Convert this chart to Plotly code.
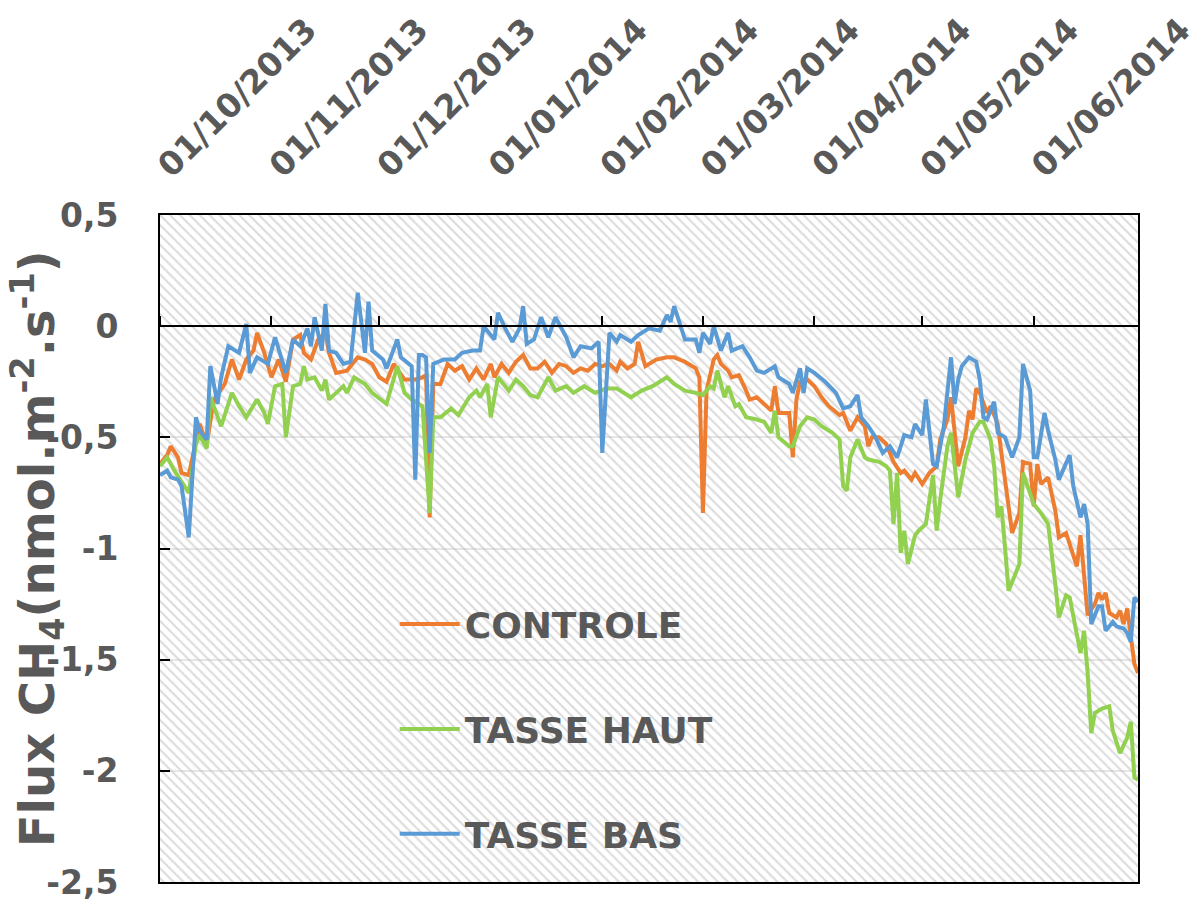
import pandas as pd
import plotly.graph_objects as go

START = "2013-10-01"
AXIS_END = "2014-06-30"
Y_RANGE = [-2.5, 0.5]
Y_TICKS = [0.5, 0, -0.5, -1, -1.5, -2, -2.5]
Y_TICKTEXT = ["0,5", "0", "-0,5", "-1", "-1,5", "-2", "-2,5"]

# days since 01/10/2013
controle_days = [0,2,3,5,6,8,11,13,15,16,18,20,22,24,26,27,29,31,33,35,37,39,40,42,44,46,47,49,52,55,57,59,61,63,65,68,71,73,74,75,76,78,80,82,84,86,88,90,92,93,95,97,99,101,103,105,107,109,111,113,115,117,119,121,123,125,127,128,130,132,133,135,138,141,143,146,149,150,151,152,154,155,156,158,159,161,163,164,166,168,170,171,172,174,175,176,177,178,180,182,184,186,189,190,192,194,196,197,198,200,202,204,206,207,209,210,212,214,216,217,219,220,221,222,224,225,226,227,228,230,231,233,234,236,237,239,240,242,243,244,245,247,249,250,252,255,256,258,260,261,262,263,264,266,267,268,269,271,272]
controle_flux = [-0.62,-0.58,-0.54,-0.59,-0.66,-0.67,-0.44,-0.53,-0.33,-0.31,-0.26,-0.15,-0.24,-0.15,-0.11,-0.03,-0.12,-0.23,-0.15,-0.25,-0.06,-0.04,-0.12,-0.15,-0.06,-0.03,-0.12,-0.21,-0.20,-0.14,-0.15,-0.17,-0.23,-0.25,-0.17,-0.24,-0.24,-0.23,-0.22,-0.86,-0.26,-0.26,-0.17,-0.20,-0.18,-0.24,-0.19,-0.24,-0.17,-0.23,-0.17,-0.21,-0.16,-0.13,-0.19,-0.19,-0.16,-0.21,-0.17,-0.18,-0.21,-0.19,-0.20,-0.17,-0.18,-0.17,-0.20,-0.16,-0.19,-0.17,-0.07,-0.18,-0.15,-0.14,-0.14,-0.16,-0.19,-0.23,-0.84,-0.29,-0.15,-0.13,-0.17,-0.20,-0.23,-0.22,-0.29,-0.33,-0.32,-0.35,-0.38,-0.27,-0.39,-0.39,-0.39,-0.59,-0.33,-0.25,-0.24,-0.27,-0.32,-0.36,-0.40,-0.39,-0.47,-0.41,-0.45,-0.54,-0.50,-0.50,-0.53,-0.61,-0.66,-0.65,-0.69,-0.66,-0.71,-0.66,-0.63,-0.51,-0.42,-0.32,-0.48,-0.63,-0.50,-0.38,-0.42,-0.28,-0.30,-0.39,-0.36,-0.44,-0.57,-0.81,-0.93,-0.84,-0.61,-0.62,-0.81,-0.62,-0.71,-0.68,-0.83,-0.95,-0.93,-1.08,-0.94,-1.30,-1.25,-1.20,-1.23,-1.20,-1.29,-1.31,-1.28,-1.34,-1.27,-1.52,-1.56]

haut_days = [0,2,4,6,8,10,11,13,14,17,20,22,24,27,29,30,32,34,35,37,39,40,41,43,45,46,47,49,51,52,54,57,59,63,66,68,70,73,75,76,78,81,83,86,88,89,91,92,94,97,99,101,103,105,108,110,113,115,118,121,124,127,129,131,134,137,140,141,143,146,149,151,153,154,155,157,158,160,161,163,166,168,170,171,172,175,176,178,180,182,184,187,189,190,191,192,194,196,197,200,202,203,204,205,206,207,208,210,211,213,215,216,217,219,220,222,224,226,228,229,231,232,233,234,235,236,238,239,240,242,243,245,247,249,250,252,253,256,257,258,259,260,262,264,265,267,269,270,271,272]
haut_flux = [-0.63,-0.59,-0.65,-0.70,-0.75,-0.53,-0.49,-0.55,-0.32,-0.45,-0.30,-0.36,-0.41,-0.33,-0.39,-0.44,-0.27,-0.26,-0.50,-0.27,-0.26,-0.18,-0.24,-0.23,-0.29,-0.24,-0.33,-0.30,-0.27,-0.30,-0.23,-0.26,-0.30,-0.35,-0.18,-0.30,-0.33,-0.36,-0.84,-0.41,-0.41,-0.37,-0.40,-0.32,-0.29,-0.32,-0.26,-0.41,-0.23,-0.29,-0.24,-0.27,-0.31,-0.32,-0.23,-0.29,-0.27,-0.30,-0.27,-0.30,-0.28,-0.28,-0.30,-0.32,-0.29,-0.27,-0.24,-0.23,-0.26,-0.29,-0.30,-0.31,-0.27,-0.28,-0.20,-0.32,-0.27,-0.36,-0.35,-0.41,-0.42,-0.43,-0.48,-0.38,-0.50,-0.54,-0.54,-0.45,-0.41,-0.42,-0.45,-0.48,-0.51,-0.72,-0.74,-0.59,-0.51,-0.59,-0.60,-0.61,-0.63,-0.65,-0.89,-0.66,-1.02,-0.92,-1.07,-0.94,-0.92,-0.89,-0.67,-0.92,-0.78,-0.54,-0.48,-0.77,-0.60,-0.48,-0.43,-0.43,-0.51,-0.63,-0.86,-0.81,-0.99,-1.19,-1.11,-1.07,-0.66,-0.75,-0.80,-0.84,-0.89,-1.16,-1.31,-1.21,-1.22,-1.47,-1.37,-1.56,-1.83,-1.74,-1.72,-1.71,-1.82,-1.92,-1.85,-1.78,-2.03,-2.04]

bas_days = [0,2,3,5,6,8,10,11,13,14,16,17,19,21,22,24,25,27,30,32,34,35,37,39,41,42,43,45,46,47,49,51,53,55,57,58,59,62,63,66,67,69,70,71,72,73,74,75,76,79,82,84,87,89,90,93,94,96,98,100,101,102,104,106,108,110,113,115,117,120,122,123,125,127,128,131,133,136,139,141,142,143,146,149,150,151,153,154,156,158,159,162,164,166,168,171,172,175,176,178,179,180,182,185,188,190,192,194,195,197,199,201,203,205,207,209,210,212,213,215,216,218,220,221,222,223,225,227,228,229,230,232,233,235,236,237,239,240,242,243,244,246,247,249,250,253,254,256,257,258,259,261,262,263,265,266,268,269,270,271,272]
bas_flux = [-0.67,-0.65,-0.68,-0.69,-0.72,-0.95,-0.41,-0.47,-0.51,-0.18,-0.35,-0.23,-0.09,-0.11,-0.12,0.01,-0.21,-0.14,-0.17,-0.05,-0.15,-0.21,-0.06,-0.09,-0.01,-0.09,0.04,-0.11,0.10,-0.11,-0.12,-0.17,-0.16,0.15,-0.12,0.11,-0.11,-0.15,-0.19,-0.06,-0.14,-0.17,-0.18,-0.69,-0.13,-0.13,-0.14,-0.57,-0.17,-0.15,-0.15,-0.12,-0.11,-0.11,0.00,-0.06,0.06,-0.01,-0.07,-0.01,0.09,-0.08,-0.06,0.04,-0.05,0.04,-0.05,-0.14,-0.09,-0.10,-0.07,-0.57,-0.03,-0.07,-0.04,-0.07,-0.04,-0.01,-0.02,0.05,0.02,0.09,-0.06,-0.06,-0.12,-0.03,-0.08,0.00,-0.11,-0.03,-0.11,-0.09,-0.14,-0.20,-0.21,-0.18,-0.23,-0.26,-0.30,-0.19,-0.30,-0.19,-0.21,-0.25,-0.30,-0.37,-0.36,-0.31,-0.41,-0.45,-0.50,-0.57,-0.54,-0.59,-0.49,-0.50,-0.44,-0.49,-0.33,-0.62,-0.63,-0.45,-0.14,-0.35,-0.24,-0.18,-0.14,-0.16,-0.24,-0.41,-0.42,-0.34,-0.48,-0.50,-0.55,-0.59,-0.50,-0.17,-0.29,-0.59,-0.59,-0.39,-0.47,-0.60,-0.69,-0.58,-0.72,-0.86,-0.80,-0.89,-1.34,-1.26,-1.26,-1.37,-1.33,-1.35,-1.36,-1.38,-1.42,-1.22,-1.24]

series = [
    ("CONTROLE", controle_days, controle_flux, "#ED7D31"),
    ("TASSE HAUT", haut_days, haut_flux, "#92D050"),
    ("TASSE BAS", bas_days, bas_flux, "#5B9BD5"),
]

t0 = pd.Timestamp(START)
TXT = "#595959"
FONT = "DejaVu Sans"

fig = go.Figure()

# hatched plot background
fig.add_trace(go.Scatter(
    x=[START, AXIS_END, AXIS_END, START, START],
    y=[Y_RANGE[1], Y_RANGE[1], Y_RANGE[0], Y_RANGE[0], Y_RANGE[1]],
    mode="none", fill="toself", fillcolor="rgba(0,0,0,0)",
    fillpattern=dict(shape="\\", fgcolor="#b8b8b8", bgcolor="rgba(0,0,0,0)",
                     size=7, solidity=0.3),
    showlegend=False, hoverinfo="skip",
))

for i, (name, days, vals, col) in enumerate(series):
    dates = t0 + pd.to_timedelta(days, unit="D")
    fig.add_trace(go.Scatter(
        x=dates, y=vals, name=name, mode="lines", xaxis="x2",
        line=dict(color=col, width=4), legendgroup=f"g{i}",
    ))

zero_pos = (0 - Y_RANGE[0]) / (Y_RANGE[1] - Y_RANGE[0])

fig.update_layout(
    width=1191, height=893,
    margin=dict(l=152, r=61, t=207, b=19, autoexpand=False),
    paper_bgcolor="white", plot_bgcolor="white",
    font=dict(family=FONT, color=TXT, size=32, weight="bold"),
    xaxis=dict(
        type="date", range=[START, AXIS_END], side="top", automargin=False,
        dtick="M1", tick0=START, tickformat="%d/%m/%Y", tickangle=-45,
        ticks="", showgrid=False, zeroline=False, ticklabelstandoff=16,
        ticklabeloverflow="allow",
        showline=True, linecolor="black", linewidth=2, mirror=True,
        tickfont=dict(family=FONT, size=33, color=TXT, weight="bold"),
    ),
    xaxis2=dict(
        type="date", overlaying="x", matches="x", anchor="free", position=zero_pos,
        side="top", dtick="M1", tick0=START, ticks="outside", ticklen=9,
        tickwidth=2, tickcolor="black", showticklabels=False, showgrid=False,
        showline=True, linecolor="black", linewidth=2, zeroline=False, automargin=False,
    ),
    yaxis=dict(
        range=Y_RANGE, tickvals=Y_TICKS, ticktext=Y_TICKTEXT, automargin=False,
        ticks="inside", ticklen=10, tickwidth=2, tickcolor="black",
        showgrid=True, gridcolor="#e6e6e6", gridwidth=1.5, zeroline=False,
        showline=True, linecolor="black", linewidth=2, mirror=True,
        ticklabelstandoff=33, ticklabeloverflow="allow",
        tickfont=dict(family=FONT, size=33, color=TXT, weight="bold"),
    ),
    legend=dict(
        x=0.240, y=0.4315, xanchor="left", yanchor="top",
        bgcolor="rgba(0,0,0,0)", font=dict(family=FONT, size=36, color=TXT, weight="bold"),
        tracegroupgap=55, itemwidth=60,
    ),
    annotations=[dict(
        text="Flux CH<sub>4</sub>(nmol.m<sup>-2</sup>.s<sup>-1</sup>)",
        xref="paper", yref="paper", x=-0.1250, y=0.5, textangle=-90,
        showarrow=False, xanchor="center", yanchor="middle",
        font=dict(family=FONT, size=48, color=TXT, weight="bold"),
    )],
    showlegend=True,
)

fig.write_html("out.html")
